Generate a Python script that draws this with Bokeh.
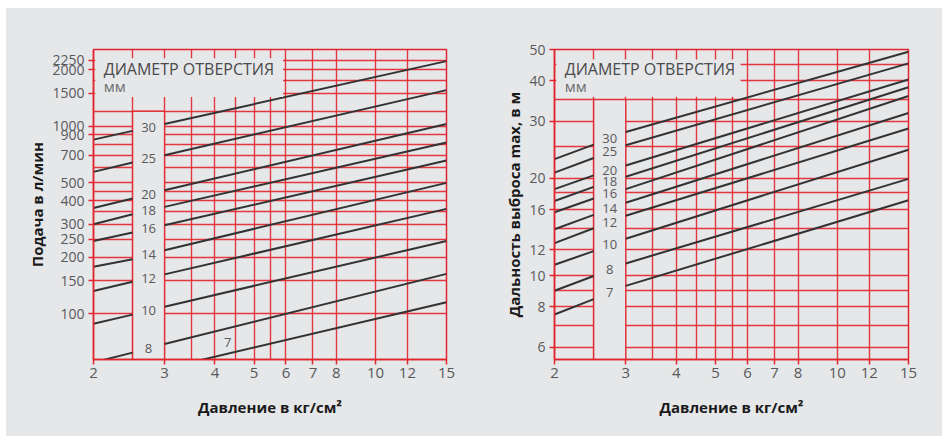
from bokeh.plotting import figure
from bokeh.layouts import row
from bokeh.models import FixedTicker
from bokeh.core.properties import value
from bokeh.embed import file_html
from bokeh.resources import INLINE
import numpy as np

# ---------------- data ----------------
diameters = ["30", "25", "20", "18", "16", "14", "12", "10", "8", "7"]

# pressure (kg/cm2) at which each segment's ends were read
p_seg_left = [2, 2.5]
p_seg_right = [3, 15]

# Flow (l/min) – left chart
flow_p2 = [847, 570, 366, 300, 244, 178, 132, 88.5, 55, None]
flow_p25 = [943, 640, 411, 339, 271, 195, 148, 98.9, 62, None]
flow_p3 = [1025, 700, 455, 371, 296, 218, 162, 109, 69, 51]
flow_p15 = [2220, 1555, 1025, 818, 656, 498, 362, 244, 163, 115]

# Throw distance (m) – right chart
dist_p2 = [22.9, 20.8, 18.5, 17.0, 15.7, 13.9, 12.6, 10.8, 8.97, 7.58]
dist_p25 = [25.4, 23.1, 20.4, 18.8, 17.3, 15.4, 14.0, 11.9, 9.97, 8.45]
dist_p3 = [27.8, 25.3, 21.9, 20.2, 18.5, 16.8, 15.3, 13.0, 10.9, 9.29]
dist_p15 = [49.2, 45.3, 40.4, 38.2, 35.9, 31.8, 28.5, 24.5, 19.9, 17.1]

x_ticks = [2, 3, 4, 5, 6, 7, 8, 10, 12, 15]
x_grid = [2, 2.5, 3, 3.5, 4, 4.5, 5, 5.5, 6, 7, 8, 10, 12, 15]

flow_ticks = [100, 150, 200, 250, 300, 400, 500, 700, 900, 1000, 1500, 2000, 2250]
flow_grid = [100, 150, 200, 250, 300, 350, 400, 450, 500, 600, 700, 800, 900,
             1000, 1200, 1500, 1750, 2000, 2250]

dist_ticks = [6, 8, 10, 12, 16, 20, 30, 40, 50]
dist_grid = [6, 7, 8, 9, 10, 12, 14, 16, 18, 20, 25, 30, 35, 40, 45, 50]

box_title = "ДИАМЕТР ОТВЕРСТИЯ"
box_unit = "мм"
x_title = "Давление в кг/см²"
y_title_left = "Подача в л/мин"
y_title_right = "Дальность выброса max, в м"

# ---------------- style ----------------
BG = "#e6e7e9"
RED = "#e2252c"
LINE = "#333333"
TICK_TXT = "#58595b"
FONT = "Open Sans"


def make_fig(bl, fw, br, y_range, y_ticks, grid_y):
    p = figure(width=bl + fw + br, height=428, x_axis_type="log", y_axis_type="log",
               x_range=(2, 15), y_range=y_range, output_backend="svg",
               toolbar_location=None, min_border_left=bl, min_border_right=br,
               min_border_top=41, min_border_bottom=77,
               background_fill_color=BG, border_fill_color=BG)
    p.xaxis.ticker = FixedTicker(ticks=x_ticks)
    p.yaxis.ticker = FixedTicker(ticks=y_ticks)
    p.xaxis.major_label_overrides = {t: str(t) for t in x_ticks}
    p.yaxis.major_label_overrides = {t: str(t) for t in y_ticks}
    for ax in (p.xaxis[0], p.yaxis[0]):
        ax.axis_line_color = RED
        ax.axis_line_width = 1.5
        ax.major_tick_line_color = RED
        ax.major_tick_line_width = 1.5
        ax.major_tick_out = 5
        ax.major_tick_in = 0
        ax.minor_tick_line_color = None
        ax.major_label_text_font = FONT
        ax.major_label_text_color = TICK_TXT
        ax.axis_label_text_font = FONT
        ax.axis_label_text_font_style = "bold"
        ax.axis_label_text_font_size = "15px"
        ax.axis_label_text_color = "#1a1a1a"
    p.xaxis.major_label_text_font_size = "15px"
    p.yaxis.major_label_text_font_size = "14px"
    p.xaxis.major_label_standoff = 3
    p.yaxis.major_label_standoff = 4
    p.xaxis.axis_label_standoff = 16
    p.yaxis.axis_label_standoff = 2
    p.xgrid.ticker = FixedTicker(ticks=x_grid)
    p.ygrid.ticker = FixedTicker(ticks=grid_y)
    p.grid.grid_line_color = RED
    p.grid.grid_line_width = 1.4
    p.grid.grid_line_alpha = 0.9
    p.outline_line_color = RED
    p.outline_line_width = 1.5
    return p


def draw(p, v2, v25, v3, v15, ylo, col_top, box, title_y, unit_y, seven_outside):
    # label column
    p.quad(left=p_seg_left[1], right=p_seg_right[0], bottom=ylo, top=col_top,
           fill_color=BG, line_color=RED, line_width=1.4, line_alpha=0.9)
    xs, ys = [], []
    for i in range(len(diameters)):
        if v2[i] is not None:
            xs.append(p_seg_left)
            ys.append([v2[i], v25[i]])
        xs.append(p_seg_right)
        ys.append([v3[i], v15[i]])
    p.multi_line(xs, ys, line_color=LINE, line_width=2)

    # legend box
    p.quad(left=box[0], right=box[1], bottom=box[2], top=box[3],
           fill_color=BG, line_color=None)
    p.text(x=[2.12], y=[title_y], text=[box_title], text_font=value(FONT),
           text_font_size="16px", text_color="#4a4a4c", text_baseline="middle")
    p.text(x=[2.12], y=[unit_y], text=[box_unit], text_font=value(FONT),
           text_font_size="15px", text_color="#6d6e70", text_baseline="middle")

    # diameter labels in the column
    xmid = np.sqrt(p_seg_left[1] * p_seg_right[0])
    lab_x, lab_y, lab_t = [], [], []
    for i, d in enumerate(diameters):
        if seven_outside and v25[i] is None:
            continue
        lab_x.append(xmid)
        lab_y.append(np.sqrt(v25[i] * v3[i]))
        lab_t.append(d)
    p.text(x=lab_x, y=lab_y, text=lab_t, text_font=value(FONT),
           text_font_size="13px", text_color="#58595b",
           text_align="center", text_baseline="middle")
    if seven_outside:
        i = len(diameters) - 1
        px = 4.3
        frac = np.log(px / p_seg_right[0]) / np.log(p_seg_right[1] / p_seg_right[0])
        py = np.exp(np.log(v3[i]) + frac * np.log(v15[i] / v3[i]))
        p.text(x=[px], y=[py], text=[diameters[i]], text_font=value(FONT),
               text_font_size="13px", text_color="#58595b",
               text_align="center", text_baseline="middle", y_offset=-11)


left_lo = 57
p1 = make_fig(87, 353, 28, (left_lo, 2560), flow_ticks, flow_grid)
p1.xaxis.axis_label = x_title
p1.yaxis.axis_label = y_title_left
draw(p1, flow_p2, flow_p25, flow_p3, flow_p15, left_lo, 1200,
     (2.02, 5.9, 1430, 2300), 2013, 1634, True)

right_lo = 5.5
p2 = make_fig(80, 354, 34, (right_lo, 50), dist_ticks, dist_grid)
p2.xaxis.axis_label = x_title
p2.yaxis.axis_label = y_title_right
draw(p2, dist_p2, dist_p25, dist_p3, dist_p15, right_lo, 35,
     (2.02, 5.77, 35.7, 46.6), 43.5, 38.5, False)

layout = row(p1, p2, spacing=0, margin=(8, 0, 0, 6),
             styles={"background-color": BG})
open("out.html", "w").write(file_html(layout, INLINE))
